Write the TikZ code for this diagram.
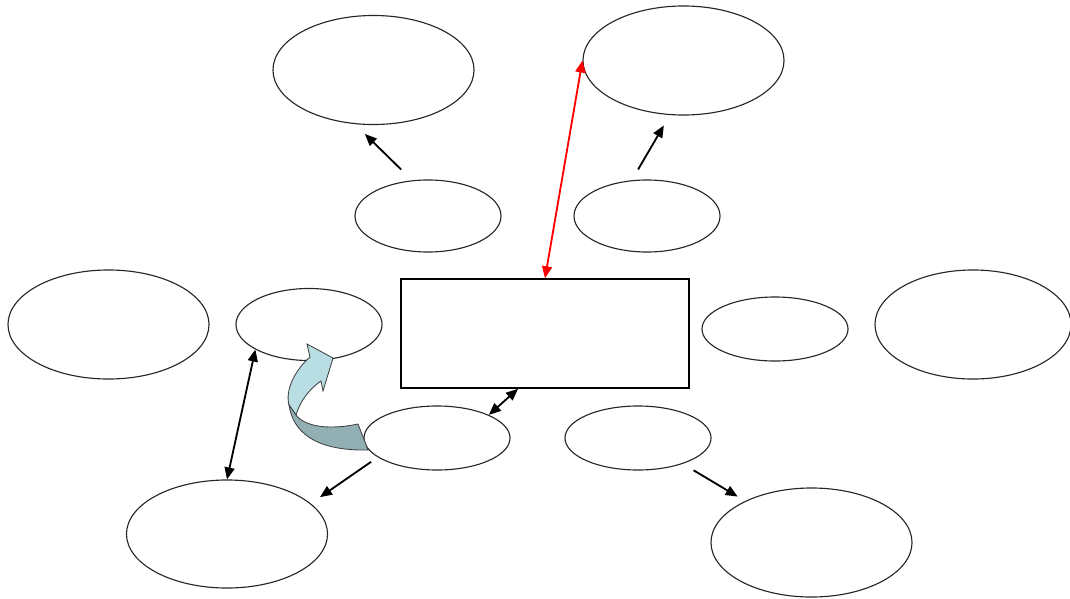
\documentclass[tikz,border=0pt]{standalone}
\usepackage{tikz}
\usetikzlibrary{shapes.geometric, arrows.meta, positioning}
\definecolor{arrowlight}{HTML}{B8DEE4}
\definecolor{arrowdark}{HTML}{92B0B4}
\tikzset{
  bigoval/.style={ellipse, draw=black!85, line width=0.8pt, minimum width=5.025cm, minimum height=2.725cm, inner sep=0pt},
  smalloval/.style={ellipse, draw=black!85, line width=0.8pt, minimum width=3.65cm, minimum height=1.8cm, inner sep=0pt},
  flatoval/.style={smalloval, minimum height=1.6cm},
  link/.style={line width=1.3pt, -{Triangle[length=3mm,width=2.5mm]}},
  twolink/.style={line width=1.3pt, {Triangle[length=3mm,width=2.5mm]}-{Triangle[length=3mm,width=2.5mm]}},
}

\begin{document}
\begin{tikzpicture}[x=0.025cm, y=-0.025cm]
\useasboundingbox (0,0) rectangle (1070,598);

\node[bigoval] (tl) at (373.5, 70) {};
\node[bigoval] (tr) at (683.5, 60.5) {};
\node[smalloval] (mtl) at (428, 216) {};
\node[smalloval] (mtr) at (647, 216) {};
\node[bigoval] (lb) at (108.5, 324.5) {};
\node[smalloval] (ls) at (309, 324.5) {};
\node[draw, line width=1pt, minimum width=7.2cm, minimum height=2.725cm, inner sep=0pt] (box) at (545, 333.5) {};
\node[flatoval] (rs) at (775, 329) {};
\node[bigoval, minimum width=4.9cm] (rb) at (973, 324.5) {};
\node[flatoval] (bcl) at (437, 438) {};
\node[flatoval] (bcr) at (638, 438) {};
\node[bigoval, minimum height=2.7cm] (bl) at (227, 534) {};
\node[bigoval] (br) at (811.5, 542.5) {};

\draw[link, shorten <=0.385cm, shorten >=0.35cm] (mtl.114.6) -- (tl.251.2);
\draw[link, shorten <=0.31cm, shorten >=0.30cm] (mtr.113.4) -- (tr.256);
\draw[twolink, red] (box.north) -- (tr.west);
\draw[twolink] (bcl.24) -- (box.244.5);
\draw[twolink] (ls.205) -- (bl.north);
\draw[link, shorten <=0.2cm, shorten >=0.28cm] (bcl.198.9) -- (bl.20.5);
\draw[link, shorten <=0.315cm, shorten >=0.215cm] (bcr.330) -- (br.148.1);

\filldraw[fill=arrowlight, draw=black!75, line width=0.6pt]
  (310,357) .. controls (295,370) and (285,390) .. (289,405)
  -- (296,415) .. controls (300,402) and (308,390) .. (321,381)
  -- (323,391) -- (333,358) -- (307,344) -- cycle;
\filldraw[fill=arrowdark, draw=black!75, line width=0.6pt]
  (289,405) .. controls (293,432) and (315,451) .. (368,450)
  -- (358,424) .. controls (330,430) and (305,427) .. (296,415) -- cycle;
\end{tikzpicture}
\end{document}
